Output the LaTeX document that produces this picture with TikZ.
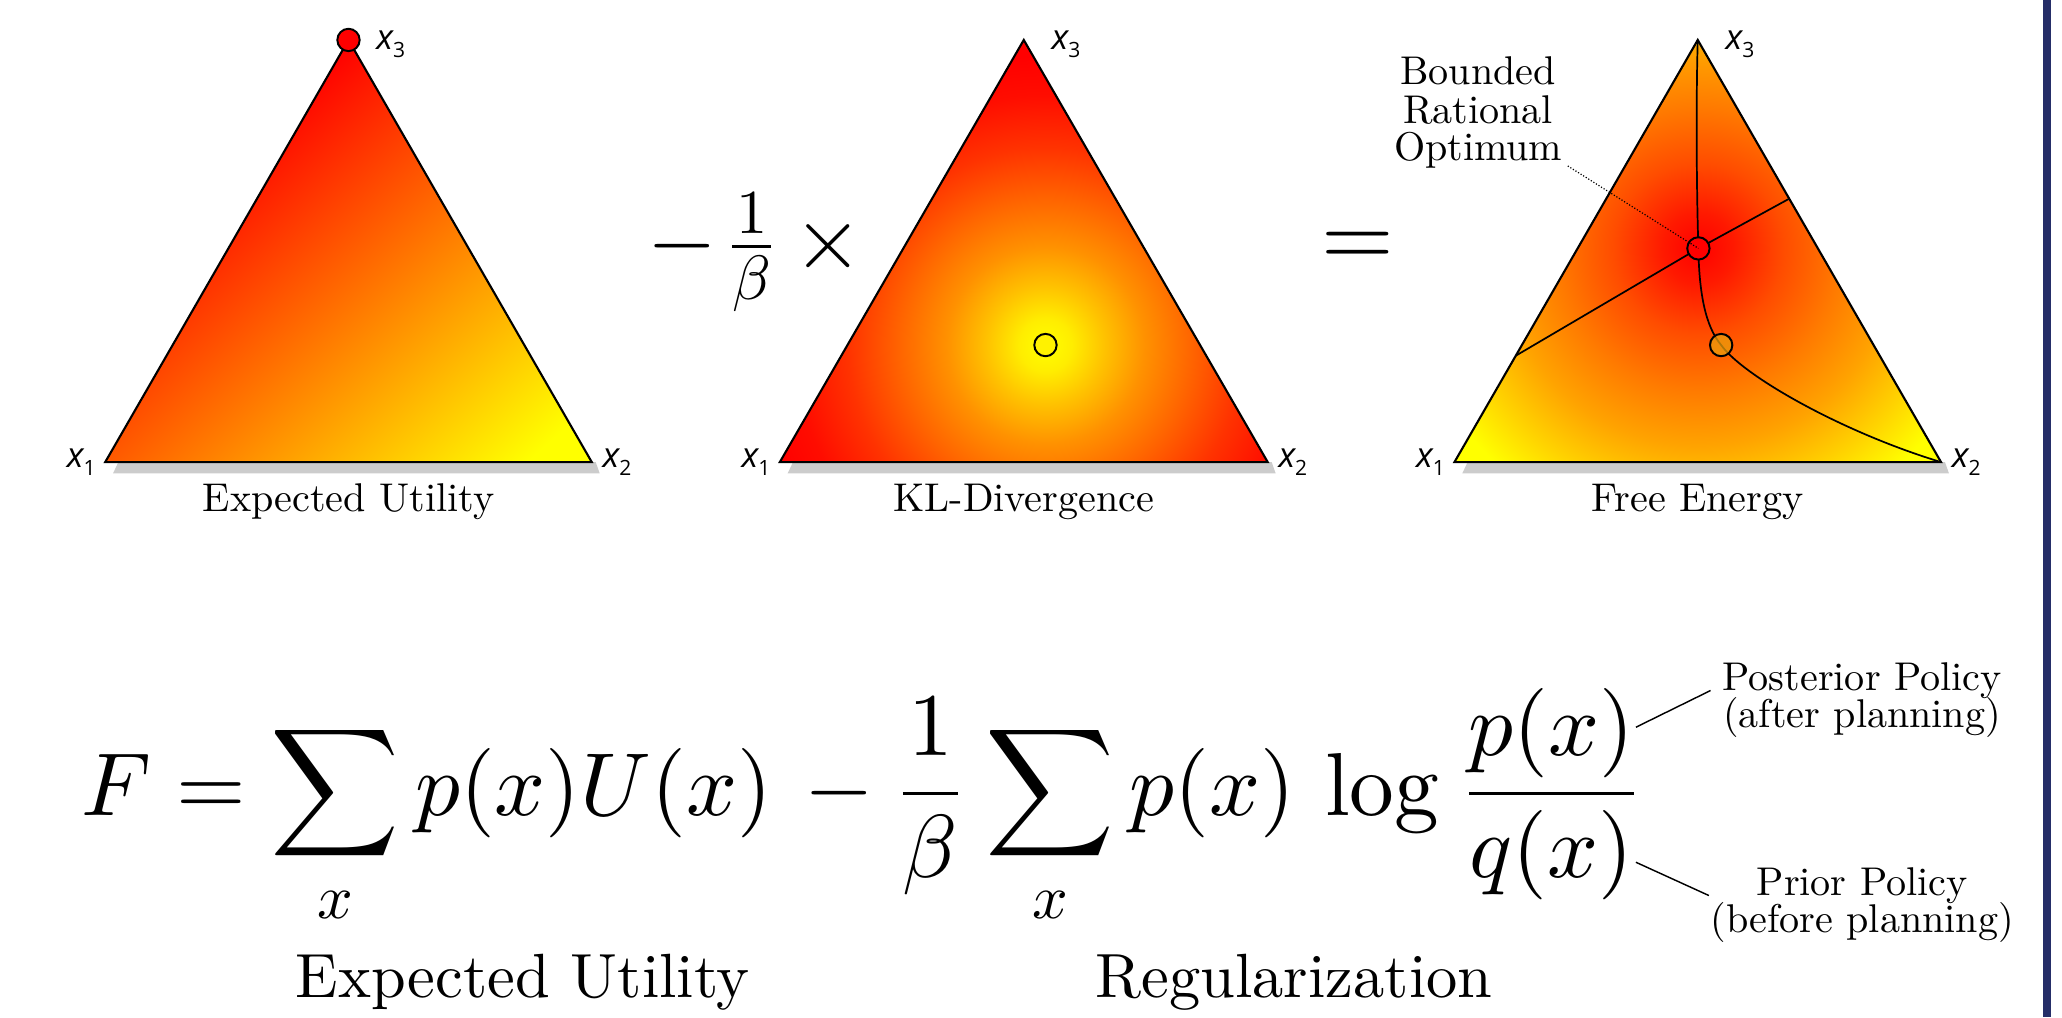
\RequirePackage{fix-cm}
\documentclass[tikz,border=0pt]{standalone}
\usepackage{amsmath}
\usepackage{fontspec}
\setmainfont{lmroman10-regular.otf}[ItalicFont=lmroman10-italic.otf, BoldFont=lmroman10-bold.otf]
\newfontfamily\lblfont{Open Sans}
\DeclareFontShape{OML}{cmm}{m}{it}{<->cmmi10}{}
\DeclareFontShape{OT1}{cmr}{m}{n}{<->cmr10}{}
\DeclareFontShape{OMS}{cmsy}{m}{n}{<->cmsy10}{}
\DeclareFontShape{OMX}{cmex}{m}{n}{<->cmex10}{}
\usetikzlibrary{calc}

\definecolor{navybar}{RGB}{37,46,104}
\definecolor{shadowgray}{RGB}{204,204,204}
\definecolor{lowdot}{rgb}{0.92,0.62,0.05}

% expected utility: linear, yellow -> red
\pgfdeclarehorizontalshading{eushade}{100bp}{%
  rgb(0bp)=(1,1,0); rgb(34.45bp)=(1,1,0); rgb(65.55bp)=(1,0,0); rgb(100bp)=(1,0,0)}
% KL divergence: yellow centre, red far away (circle radius 250 <-> 25bp)
\pgfdeclareradialshading{klshade}{\pgfpoint{0bp}{0bp}}{%
  rgb(0bp)=(1,1,0); rgb(2bp)=(1,0.93,0); rgb(4.5bp)=(1,0.76,0);
  rgb(7.5bp)=(1,0.57,0); rgb(11bp)=(1,0.4,0); rgb(15bp)=(1,0.2,0);
  rgb(19bp)=(1,0.05,0); rgb(22bp)=(1,0,0); rgb(50bp)=(1,0,0)}
% Free energy: red at optimum, yellow far away (circle radius 270 <-> 25bp)
\pgfdeclareradialshading{feshade}{\pgfpoint{0bp}{0bp}}{%
  rgb(0bp)=(1,0,0); rgb(2.5bp)=(1,0.1,0); rgb(6bp)=(1,0.3,0);
  rgb(10bp)=(1,0.48,0); rgb(13.9bp)=(1,0.64,0); rgb(17.6bp)=(1,0.83,0);
  rgb(20.8bp)=(1,1,0); rgb(50bp)=(1,1,0)}

\newcommand{\xlab}[1]{{\itshape x}\raisebox{-6pt}{\fontsize{16}{16}\selectfont #1}}

\tikzset{
  tri/.style={draw=black, line width=1.6pt, line join=miter},
  xlbl/.style={inner sep=0pt, font=\lblfont\fontsize{26.5}{30}\selectfont},
  captext/.style={inner sep=0pt, font=\fontsize{30.5}{36}\selectfont},
  bigtext/.style={inner sep=0pt, font=\fontsize{47.5}{56}\selectfont},
  mathbig/.style={inner sep=0pt, font=\fontsize{68}{80}\selectfont},
  dotmark/.style={circle, draw=black, line width=1.5pt, minimum size=17pt, inner sep=0pt},
  curveline/.style={draw=black, line width=1.3pt},
  dotline/.style={draw=black, line width=0.9pt, dash pattern=on 0.9pt off 1.4pt},
  pointer/.style={draw=black, line width=1.1pt},
  shadowband/.style={fill=shadowgray},
}

\begin{document}
\begin{tikzpicture}[x=1pt,y=1pt]
\fill[white] (0,0) rectangle (1568,773.4);
\path[use as bounding box] (0,0) rectangle (1568,773.4);
\fill[navybar] (1553.6,0) rectangle (1559.7,773.4);

% triangle corners
\coordinate (A1) at (80,422);   \coordinate (B1) at (450,422);  \coordinate (C1) at (265,743);
\coordinate (A2) at (593,422);  \coordinate (B2) at (964,422);  \coordinate (C2) at (778.5,743);
\coordinate (A3) at (1106,422); \coordinate (B3) at (1476,422); \coordinate (C3) at (1291,743);

% shadow bands below the bases
\foreach \i in {1,2,3}{
  \fill[shadowband] ($(A\i)+(10,0)$) -- ($(B\i)+(3,0)$) -- ($(B\i)+(6,-8.5)$) -- ($(A\i)+(6,-8.5)$) -- cycle;
}

% triangle 1: linear gradient (expected utility)
\begin{scope}
  \clip (A1) -- (B1) -- (C1) -- cycle;
  \begin{scope}[transform canvas={rotate around={131.8:(428.1,446.5)}}]
    \shade[shading=eushade] (328.1,46.5) rectangle (857.1,846.5);
  \end{scope}
\end{scope}

% triangle 2: radial gradient (KL divergence)
\begin{scope}
  \clip (A2) -- (B2) -- (C2) -- cycle;
  \shade[shading=klshade] (795,511) circle (250);
\end{scope}

% triangle 3: free energy
\coordinate (optc) at (1291.5,584.5);
\coordinate (lowc) at (1308.8,511);
\begin{scope}
  \clip (A3) -- (B3) -- (C3) -- cycle;
  \shade[shading=feshade] (optc) circle (270);
\end{scope}

\draw[tri] (A1) -- (B1) -- (C1) -- cycle;
\draw[tri] (A2) -- (B2) -- (C2) -- cycle;
\draw[tri] (A3) -- (B3) -- (C3) -- cycle;

% lines in free energy triangle
\coordinate (L1) at ($(A3)!0.252!(C3)$);
\coordinate (L2) at ($(B3)!0.624!(C3)$);
\draw[curveline] (L1) -- (optc) -- (L2);
\draw[curveline] (C3) .. controls (1289.5,690) and (1290.3,620) .. (optc)
  .. controls (1292,550) and (1297,525) .. (lowc)
  .. controls (1325,488) and (1400,445) .. (B3);
\node[dotmark, fill=lowdot, fill opacity=0.75] (low) at (lowc) {};
\node[dotmark, fill=red] (opt) at (optc) {};

% markers
\node[dotmark, fill=red] (top1) at (C1) {};
\node[dotmark, fill=yellow] (kl) at (795,511) {};

% vertex labels
\foreach \i in {1,2,3}{
  \node[xlbl, anchor=base east] (xa\i) at ($(A\i)+(-7,-4)$) {\xlab{1}};
  \node[xlbl, anchor=base west] (xb\i) at ($(B\i)+(8,-4)$) {\xlab{2}};
  \node[xlbl, anchor=base west] (xc\i) at ($(C\i)+(21,-7)$) {\xlab{3}};
}

% captions
\node[captext, anchor=base] (cap1) at (265,384.5) {Expected Utility};
\node[captext, anchor=base] (cap2) at (778.5,384.5) {KL-Divergence};
\node[captext, anchor=base] (cap3) at (1291,384.5) {Free Energy};

% bounded rational optimum annotation
\node[captext, anchor=base] (bro1) at (1124,709.2) {Bounded};
\node[captext, anchor=base] (bro2) at (1124,679.8) {Rational};
\node[captext, anchor=base] (bro3) at (1124,651.2) {Optimum};
\draw[dotline] ($(bro3.base east)+(4,-4)$) -- (optc);

% operators in the top row
\node[mathbig, anchor=base west] (scalefac) at (492,569) {$-\mskip2.8mu\frac{1}{\beta}\mskip4.2mu\times$};
\node[mathbig, anchor=base west, font=\fontsize{71}{80}\selectfont] (equals) at (1005,571) {$=$};

% formula
\node[mathbig, anchor=base west] (formula) at (62,153)
  {$\displaystyle F = \sum_x p(x)U(x)\mskip2.6mu - \mskip1.4mu\frac{1}{\beta}\mskip2.2mu\sum_x p(x)\mskip3mu\log\mskip2.6mu\frac{p(x)}{q(x)}$};

\node[bigtext, anchor=base] (eu) at (397.5,15) {Expected Utility};
\node[bigtext, anchor=base] (reg) at (984,15) {Regularization};

% policy annotations
\node[captext, anchor=base] (post1) at (1416,248.3) {Posterior Policy};
\node[captext, anchor=base] (post2) at (1416,220.4) {(after planning)};
\node[captext, anchor=base] (prior1) at (1416,92.4) {Prior Policy};
\node[captext, anchor=base] (prior2) at (1416,64.5) {(before planning)};
\coordinate (numtip) at (1244,220.4);
\coordinate (dentip) at (1244,117.7);
\draw[pointer] (numtip) -- ($(post1.base west)+(-9,0)$);
\draw[pointer] (dentip) -- ($(prior2.base west |- prior1.base)+(-1,0)$);
\end{tikzpicture}
\end{document}
